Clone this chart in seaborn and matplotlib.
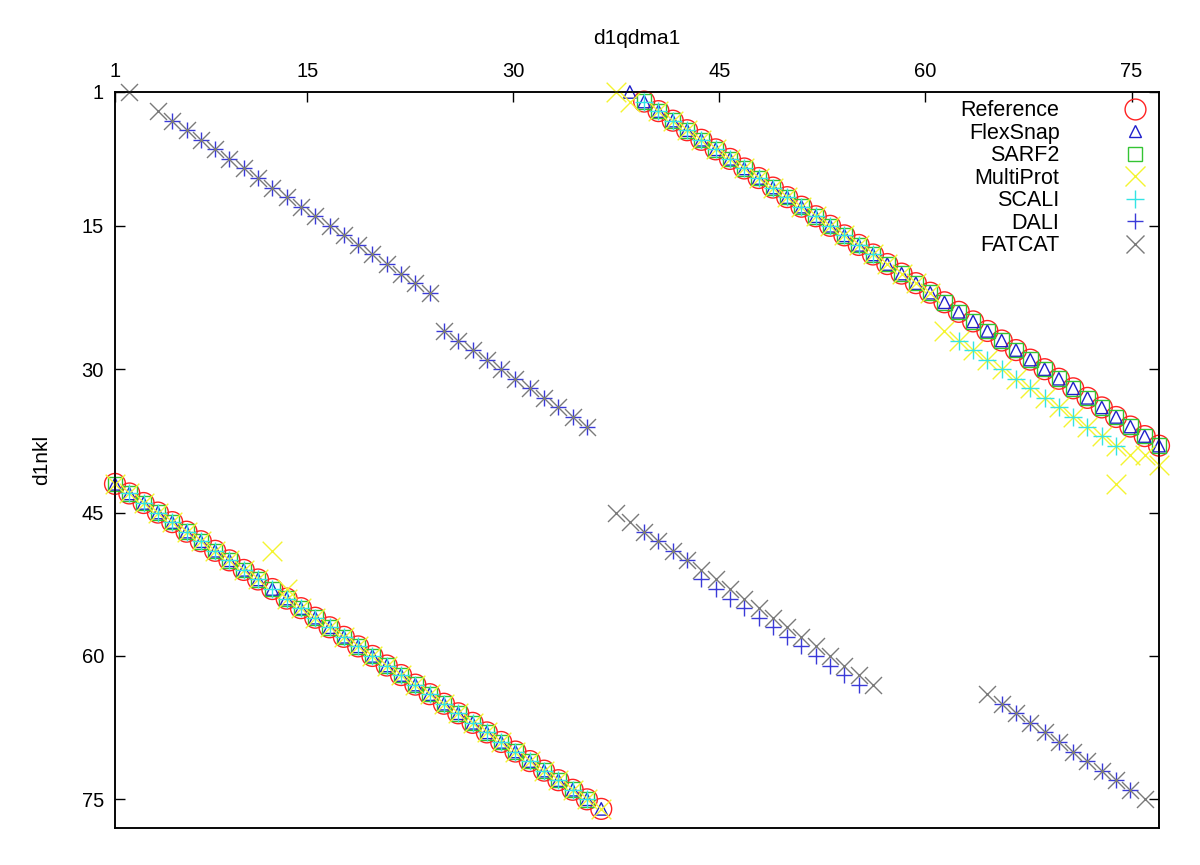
import matplotlib
matplotlib.use("Agg")
import matplotlib.pyplot as plt
from matplotlib.lines import Line2D
import pandas as pd
import seaborn as sns

# Alignment positions
# x: residue of d1qdma1, y: residue of d1nkl

# long diagonal, lower left
diag_a_x = [1, 2, 3, 4, 5, 6, 7, 8, 9, 10, 11, 12, 13, 14, 15, 16, 17, 18,
            19, 20, 21, 22, 23, 24, 25, 26, 27, 28, 29, 30, 31, 32, 33, 34, 35]
diag_a_y = [42, 43, 44, 45, 46, 47, 48, 49, 50, 51, 52, 53, 54, 55, 56, 57, 58, 59,
            60, 61, 62, 63, 64, 65, 66, 67, 68, 69, 70, 71, 72, 73, 74, 75, 76]
# long diagonal, upper right
diag_b_x = [38, 39, 40, 41, 42, 43, 44, 45, 46, 47, 48, 49, 50, 51, 52, 53, 54, 55, 56,
            57, 58, 59, 60, 61, 62, 63, 64, 65, 66, 67, 68, 69, 70, 71, 72, 73, 74]
diag_b_y = [2, 3, 4, 5, 6, 7, 8, 9, 10, 11, 12, 13, 14, 15, 16, 17, 18, 19, 20,
            21, 22, 23, 24, 25, 26, 27, 28, 29, 30, 31, 32, 33, 34, 35, 36, 37, 38]

# MultiProt points off the diagonals
mp_extra_x = [36, 37, 12, 13, 73, 74, 71]
mp_extra_y = [1, 2, 49, 53, 39, 40, 42]
mp_low_x = [59, 60, 61, 62, 63, 64, 65, 66, 67, 68, 69, 70, 71, 72]
mp_low_y = [26, 27, 28, 29, 30, 31, 32, 33, 34, 35, 36, 37, 38, 39]

# SCALI shifted run
scali_low_x = [60, 61, 62, 63, 64, 65, 66, 67, 68, 69, 70, 71]
scali_low_y = [27, 28, 29, 30, 31, 32, 33, 34, 35, 36, 37, 38]

# DALI runs
dali_x = [5, 6, 7, 8, 9, 10, 11, 12, 13, 14, 15, 16, 17, 18, 19, 20, 21, 22, 23,
          24, 25, 26, 27, 28, 29, 30, 31, 32, 33, 34,
          38, 39, 40, 41, 42, 43, 44, 45, 46, 47, 48, 49, 50, 51, 52, 53,
          63, 64, 65, 66, 67, 68, 69, 70, 71, 72]
dali_y = [4, 5, 6, 7, 8, 9, 10, 11, 12, 13, 14, 15, 16, 17, 18, 19, 20, 21, 22,
          26, 27, 28, 29, 30, 31, 32, 33, 34, 35, 36,
          47, 48, 49, 50, 52, 53, 54, 55, 56, 57, 58, 59, 60, 61, 62, 63,
          65, 66, 67, 68, 69, 70, 71, 72, 73, 74]

# FATCAT runs
fatcat_x = [2, 4, 5, 6, 7, 8, 9, 10, 11, 12, 13, 14, 15, 16, 17, 18, 19, 20, 21, 22, 23,
            24, 25, 26, 27, 28, 29, 30, 31, 32, 33, 34,
            36, 37, 38, 39, 40, 41, 42, 43, 44, 45, 46, 47, 48, 49, 50, 51, 52, 53, 54,
            62, 63, 64, 65, 66, 67, 68, 69, 70, 71, 72, 73]
fatcat_y = [1, 3, 4, 5, 6, 7, 8, 9, 10, 11, 12, 13, 14, 15, 16, 17, 18, 19, 20, 21, 22,
            26, 27, 28, 29, 30, 31, 32, 33, 34, 35, 36,
            45, 46, 47, 48, 49, 50, 51, 52, 53, 54, 55, 56, 57, 58, 59, 60, 61, 62, 63,
            64, 65, 66, 67, 68, 69, 70, 71, 72, 73, 74, 75]

series = {
    "Reference": (diag_a_x + diag_b_x, diag_a_y + diag_b_y),
    "FlexSnap": (diag_a_x + [37] + diag_b_x, diag_a_y + [1] + diag_b_y),
    "SARF2": (diag_a_x[:-1] + diag_b_x, diag_a_y[:-1] + diag_b_y),
    "MultiProt": (diag_a_x[:11] + diag_a_x[12:] + diag_b_x[1:21] + mp_low_x + mp_extra_x,
                  diag_a_y[:11] + diag_a_y[12:] + diag_b_y[1:21] + mp_low_y + mp_extra_y),
    "SCALI": (diag_a_x[1:-1] + diag_b_x[:17] + scali_low_x,
              diag_a_y[1:-1] + diag_b_y[:17] + scali_low_y),
    "DALI": (dali_x, dali_y),
    "FATCAT": (fatcat_x, fatcat_y),
}

rows = []
for name, (xs, ys) in series.items():
    for xv, yv in zip(xs, ys):
        rows.append({"method": name, "x": xv, "y": yv})
df = pd.DataFrame(rows)

# marker, size (points^2), colour, open face?
styles = {
    "Reference": ("o", 225, "#ff2222", True),
    "FlexSnap": ("^", 80, "#2020cc", True),
    "SARF2": ("s", 110, "#33c433", True),
    "MultiProt": ("x", 200, "#f4f430", False),
    "SCALI": ("+", 180, "#33e4e4", False),
    "DALI": ("+", 120, "#3a3ad8", False),
    "FATCAT": ("x", 150, "#7a7a7a", False),
}

sns.set_theme(style="ticks")
plt.rcParams["font.family"] = ["Liberation Sans", "DejaVu Sans"]
plt.rcParams["text.color"] = "black"
plt.rcParams["axes.labelcolor"] = "black"
plt.rcParams["xtick.color"] = "black"
plt.rcParams["ytick.color"] = "black"

fig = plt.figure(figsize=(12, 8.65), dpi=100)
ax = fig.add_axes([115 / 1200, 37 / 865, 1044 / 1200, 736 / 865])

for i, (name, (mk, sz, col, is_open)) in enumerate(styles.items()):
    sub = df[df["method"] == name]
    if is_open:
        sns.scatterplot(data=sub, x="x", y="y", ax=ax, marker=mk, s=sz,
                        facecolor="none", edgecolor=col, linewidth=1.0,
                        clip_on=False, zorder=3 + i, legend=False)
    else:
        sns.scatterplot(data=sub, x="x", y="y", ax=ax, marker=mk, s=sz,
                        color=col, linewidth=1.0,
                        clip_on=False, zorder=3 + i, legend=False)

ax.set_xlim(1, 74)
ax.set_ylim(78, 1)
ax.set_xticks([])
ax.set_xlabel("")
ax.set_yticks([1, 15, 30, 45, 60, 75])
ax.tick_params(axis="y", direction="in", length=7, width=1, left=True, right=True,
               labelsize=14.5, pad=8, color="black")
ax.set_ylabel("d1nkl", fontsize=15, labelpad=22)
for sp in ax.spines.values():
    sp.set_visible(True)
    sp.set_color("black")
    sp.set_linewidth(1.1)

# top axis carries the d1qdma1 numbering
ax2 = ax.twiny()
ax2.set_xlim(1, 77)
ax2.set_xticks([1, 15, 30, 45, 60, 75])
ax2.tick_params(axis="x", direction="in", length=7, width=1, top=True,
                labelsize=14.5, pad=8, color="black")
ax2.set_xlabel("d1qdma1", fontsize=15, labelpad=13)
for sp in ax2.spines.values():
    sp.set_color("black")
    sp.set_linewidth(1.1)

handles = []
for name, (mk, sz, col, is_open) in styles.items():
    ms = sz ** 0.5
    handles.append(Line2D([], [], linestyle="none", marker=mk, markersize=ms,
                          markerfacecolor="none" if is_open else col,
                          markeredgecolor=col, markeredgewidth=1.0, label=name))
ax2.legend(handles=handles, loc="upper right", bbox_to_anchor=(0.9976, 0.989),
           markerfirst=False, frameon=False, fontsize=15.5, handlelength=2,
           handletextpad=2.5, labelspacing=0.07, borderpad=0, borderaxespad=0)

fig.savefig("out.png", dpi=100)
